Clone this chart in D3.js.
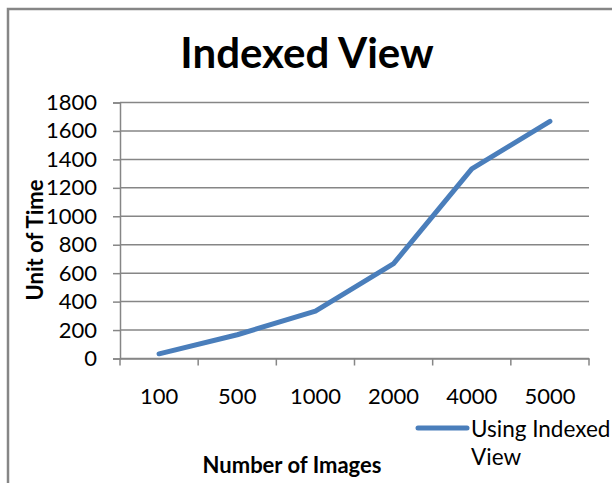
<!DOCTYPE html>
<html>
<head>
<meta charset="utf-8">
<script src="https://cdn.jsdelivr.net/npm/d3@7"></script>
<style>
  body { margin: 0; background: #fff; }
  svg { display: block; font-family: Lato, "Open Sans", sans-serif; }
</style>
</head>
<body>
<svg class="chart"></svg>
<script>
const imageCounts = ['100', '500', '1000', '2000', '4000', '5000'];
const timeValues = [33, 167, 333, 667, 1333, 1667];
const yTicks = [0, 200, 400, 600, 800, 1000, 1200, 1400, 1600, 1800];

const width = 612;
const height = 483;
const grey = '#868686';

const svg = d3.select('.chart')
  .attr('width', width)
  .attr('height', height);

// outer chart border (only top/left visible)
svg.append('path')
  .attr('d', 'M8,483 L8,9 L612,9')
  .attr('fill', 'none')
  .attr('stroke', grey)
  .attr('stroke-width', 2.5);

const x = d3.scaleBand()
  .domain(imageCounts)
  .range([120, 589]);

const y = d3.scaleLinear()
  .domain([0, 1800])
  .range([358.5, 102.5]);

// gridlines
svg.append('g')
  .selectAll('line')
  .data(yTicks)
  .enter()
  .append('line')
  .attr('x1', 120)
  .attr('x2', 589)
  .attr('y1', d => y(d))
  .attr('y2', d => y(d))
  .attr('stroke', grey)
  .attr('stroke-width', 1.5);

const yAxis = svg.append('g')
  .attr('transform', 'translate(120,0)')
  .call(d3.axisLeft(y).tickValues(yTicks).tickFormat(d3.format('d'))
    .tickSize(7).tickPadding(16));

const xAxis = svg.append('g')
  .attr('transform', `translate(0,${y(0)})`)
  .call(d3.axisBottom(x).tickSize(0).tickPadding(30));

// ticks between the categories
xAxis.selectAll('.sep')
  .data(d3.range(imageCounts.length + 1))
  .enter()
  .append('line')
  .attr('class', 'sep')
  .attr('x1', i => 120 + i * x.step())
  .attr('x2', i => 120 + i * x.step())
  .attr('y1', 0)
  .attr('y2', 7)
  .attr('stroke', grey)
  .attr('stroke-width', 1.5);

[xAxis, yAxis].forEach((axis) => {
  axis.select('.domain').attr('stroke', grey).attr('stroke-width', 1.5);
  axis.selectAll('.tick line').attr('stroke', grey).attr('stroke-width', 1.5);
  axis.selectAll('text')
    .attr('fill', '#000')
    .style('font-size', '22px')
    .style('font-family', 'Lato, "Open Sans", sans-serif');
});

const line = d3.line()
  .x((d, i) => x(imageCounts[i]) + x.bandwidth() / 2)
  .y(d => y(d));

svg.append('path')
  .datum(timeValues)
  .attr('d', line)
  .attr('fill', 'none')
  .attr('stroke', '#4a7ebb')
  .attr('stroke-width', 5)
  .attr('stroke-linecap', 'round')
  .attr('stroke-linejoin', 'round');

// titles
svg.append('text')
  .attr('x', 307)
  .attr('y', 68)
  .attr('text-anchor', 'middle')
  .style('font-size', '42px')
  .style('font-weight', 'bold')
  .text('Indexed View');

svg.append('text')
  .attr('transform', 'translate(43,240) rotate(-90)')
  .attr('text-anchor', 'middle')
  .style('font-size', '22px')
  .style('font-weight', 'bold')
  .text('Unit of Time');

svg.append('text')
  .attr('x', 292)
  .attr('y', 473)
  .attr('text-anchor', 'middle')
  .style('font-size', '22px')
  .style('font-weight', 'bold')
  .text('Number of Images');

// legend
svg.append('line')
  .attr('x1', 418)
  .attr('x2', 467)
  .attr('y1', 428)
  .attr('y2', 428)
  .attr('stroke', '#4a7ebb')
  .attr('stroke-width', 5)
  .attr('stroke-linecap', 'round');

svg.append('text')
  .attr('x', 471)
  .attr('y', 437)
  .style('font-size', '22.5px')
  .text('Using Indexed');

svg.append('text')
  .attr('x', 471)
  .attr('y', 465)
  .style('font-size', '22.5px')
  .text('View');
</script>
</body>
</html>
